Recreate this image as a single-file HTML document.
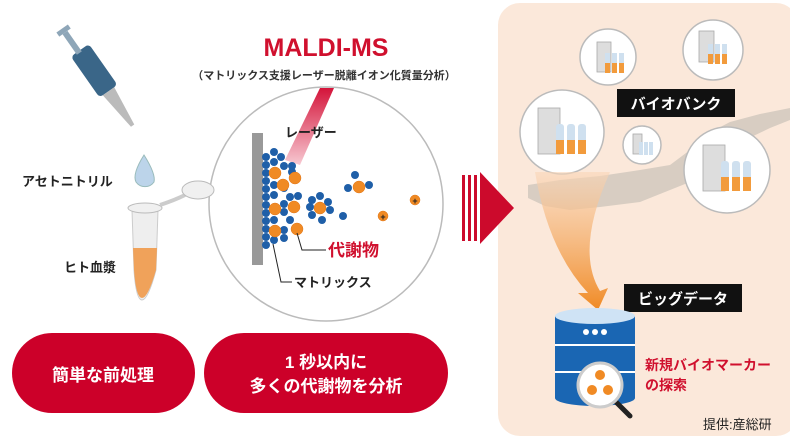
<!DOCTYPE html>
<html><head><meta charset="utf-8"><style>
body{margin:0;background:#fff}
svg{display:block}
text{font-family:"Liberation Sans","Noto Sans CJK JP",sans-serif;font-weight:bold}
</style></head><body>
<svg width="790" height="439" viewBox="0 0 790 439" xmlns="http://www.w3.org/2000/svg">
<defs>
<linearGradient id="las" x1="0" y1="0" x2="0" y2="1"><stop offset="0" stop-color="#d4143a"/><stop offset="1" stop-color="#f7c9d2"/></linearGradient>
<linearGradient id="arr" x1="0" y1="0" x2="0" y2="1"><stop offset="0" stop-color="#f9d6b8" stop-opacity="0.6"/><stop offset="1" stop-color="#f08a24"/></linearGradient>
</defs>
<rect x="498" y="3" width="300" height="433" rx="22" fill="#fbe8da"/>
<path d="M528 185 L560 180 L600 176 L640 170 L670 165 L690 150 L705 135 L730 122 L760 114 L790 108 L790 120 L770 128 L745 140 L725 160 L700 178 L670 190 L640 202 L600 207 L570 210 L545 206 L528 198 Z" fill="#d8cdc2"/>
<g stroke="#bbb" stroke-width="1.5" fill="#fff">
<circle cx="562" cy="132" r="42"/><circle cx="608" cy="57" r="28"/><circle cx="713" cy="50" r="30"/><circle cx="642" cy="145" r="19"/><circle cx="727" cy="170" r="43"/>
</g>
<g fill="#ddd" stroke="#aaa" stroke-width="0.8">
<rect x="538" y="108" width="22" height="46"/><rect x="597" y="42" width="14" height="30"/><rect x="699" y="31" width="15" height="31"/><rect x="633" y="134" width="9" height="20"/><rect x="703" y="145" width="22" height="46"/>
</g>
<g fill="#cfe0ef">
<rect x="556" y="124" width="8" height="30" rx="3"/><rect x="567" y="124" width="8" height="30" rx="3"/><rect x="578" y="124" width="8" height="30" rx="3"/>
<rect x="605" y="53" width="5" height="20"/><rect x="612" y="53" width="5" height="20"/><rect x="619" y="53" width="5" height="20"/>
<rect x="708" y="44" width="5" height="20"/><rect x="715" y="44" width="5" height="20"/><rect x="722" y="44" width="5" height="20"/>
<rect x="639" y="142" width="4" height="13"/><rect x="644" y="142" width="4" height="13"/><rect x="649" y="142" width="4" height="13"/>
<rect x="721" y="161" width="8" height="30" rx="3"/><rect x="732" y="161" width="8" height="30" rx="3"/><rect x="743" y="161" width="8" height="30" rx="3"/>
</g>
<g fill="#f29b3c">
<rect x="556" y="140" width="8" height="14"/><rect x="567" y="140" width="8" height="14"/><rect x="578" y="140" width="8" height="14"/>
<rect x="605" y="63" width="5" height="10"/><rect x="612" y="63" width="5" height="10"/><rect x="619" y="63" width="5" height="10"/>
<rect x="708" y="54" width="5" height="10"/><rect x="715" y="54" width="5" height="10"/><rect x="722" y="54" width="5" height="10"/>
<rect x="721" y="177" width="8" height="14"/><rect x="732" y="177" width="8" height="14"/><rect x="743" y="177" width="8" height="14"/>
</g>
<path d="M535 172 Q548 250 588 293 L578 293 L598 310 L608 288 L600 291 Q575 250 610 172 Z" fill="url(#arr)"/>
<rect x="617" y="89" width="118" height="28" fill="#111"/>
<text x="676" y="109" font-size="15" fill="#fff" text-anchor="middle">バイオバンク</text>
<rect x="624" y="284" width="118" height="28" fill="#111"/>
<text x="683" y="304" font-size="15" fill="#fff" text-anchor="middle">ビッグデータ</text>
<rect x="555" y="316" width="80" height="82" fill="#1a66b3"/>
<ellipse cx="595" cy="398" rx="40" ry="8" fill="#1a66b3"/>
<ellipse cx="595" cy="316" rx="40" ry="8" fill="#cfe3f5"/>
<line x1="555" y1="345" x2="635" y2="345" stroke="#fff" stroke-width="2"/>
<line x1="555" y1="372" x2="635" y2="372" stroke="#fff" stroke-width="2"/>
<circle cx="586" cy="332" r="3" fill="#fff"/><circle cx="595" cy="332" r="3" fill="#fff"/><circle cx="604" cy="332" r="3" fill="#fff"/>
<line x1="614" y1="400" x2="630" y2="416" stroke="#222" stroke-width="5" stroke-linecap="round"/>
<circle cx="600" cy="385" r="22" fill="#fff" stroke="#ccc" stroke-width="3"/>
<g fill="#f08a24"><circle cx="600" cy="375" r="5"/><circle cx="592" cy="390" r="5"/><circle cx="608" cy="390" r="5"/></g>
<text x="645" y="370" font-size="14" fill="#d0102e">新規バイオマーカー</text>
<text x="645" y="390" font-size="14" fill="#d0102e">の探索</text>
<text x="703" y="429" font-size="13" fill="#222" style="font-weight:normal">提供:産総研</text>
<g fill="#cc0a2c">
<rect x="462" y="175" width="3" height="66"/><rect x="468" y="175" width="3" height="66"/><rect x="474" y="175" width="3" height="66"/>
<polygon points="480,172 514,208 480,244"/>
</g>
<text x="326" y="56" font-size="25" fill="#d0102e" text-anchor="middle">MALDI-MS</text>
<text x="324" y="79" font-size="11" fill="#333" text-anchor="middle">（マトリックス支援レーザー脱離イオン化質量分析）</text>
<circle cx="326" cy="204" r="117" fill="#fff" stroke="#bbb" stroke-width="1.5"/>
<polygon points="320,88 334,88 300,165 285,160" fill="url(#las)"/>
<text x="285" y="137" font-size="13" fill="#222">レーザー</text>
<rect x="252" y="133" width="11" height="132" fill="#999"/>
<g fill="#1f5fa8">
<circle cx="266" cy="157" r="4"/><circle cx="274" cy="152" r="4"/><circle cx="281" cy="157" r="4"/><circle cx="266" cy="165" r="4"/><circle cx="266" cy="173" r="4"/><circle cx="266" cy="181" r="4"/><circle cx="266" cy="189" r="4"/><circle cx="266" cy="197" r="4"/><circle cx="266" cy="205" r="4"/><circle cx="266" cy="213" r="4"/><circle cx="266" cy="221" r="4"/><circle cx="266" cy="229" r="4"/><circle cx="266" cy="237" r="4"/><circle cx="266" cy="245" r="4"/>
<circle cx="274" cy="162" r="4"/><circle cx="274" cy="185" r="4"/><circle cx="274" cy="195" r="4"/><circle cx="274" cy="220" r="4"/><circle cx="274" cy="240" r="4"/>
<circle cx="284" cy="166" r="4"/><circle cx="284" cy="188" r="4"/><circle cx="290" cy="197" r="4"/><circle cx="284" cy="204" r="4"/><circle cx="284" cy="212" r="4"/><circle cx="290" cy="220" r="4"/><circle cx="284" cy="230" r="4"/><circle cx="284" cy="238" r="4"/>
<circle cx="292" cy="166" r="4"/><circle cx="298" cy="196" r="4"/><circle cx="292" cy="172" r="4"/>
<circle cx="312" cy="200" r="4"/><circle cx="320" cy="196" r="4"/><circle cx="328" cy="202" r="4"/><circle cx="330" cy="210" r="4"/><circle cx="312" cy="215" r="4"/><circle cx="322" cy="220" r="4"/><circle cx="310" cy="207" r="4"/>
<circle cx="343" cy="216" r="4"/><circle cx="355" cy="175" r="4"/><circle cx="348" cy="188" r="4"/><circle cx="369" cy="185" r="4"/>
</g>
<g fill="#f08a24" stroke="#e0761a" stroke-width="0.5">
<circle cx="275" cy="173" r="6"/><circle cx="283" cy="185" r="6"/><circle cx="295" cy="178" r="6"/><circle cx="275" cy="209" r="6"/><circle cx="294" cy="207" r="6"/><circle cx="275" cy="231" r="6"/><circle cx="297" cy="229" r="6"/><circle cx="320" cy="208" r="6"/><circle cx="359" cy="187" r="6"/>
<circle cx="383" cy="216" r="5"/><circle cx="415" cy="200" r="5"/>
</g>
<text x="383" y="220" font-size="9" text-anchor="middle" fill="#222">+</text>
<text x="415" y="204" font-size="9" text-anchor="middle" fill="#222">+</text>
<polyline points="297,233 302,250 326,250" fill="none" stroke="#222" stroke-width="1"/>
<text x="328" y="256" font-size="17" fill="#d0102e">代謝物</text>
<polyline points="273,244 281,282 292,282" fill="none" stroke="#222" stroke-width="1"/>
<text x="294" y="287" font-size="13" fill="#222">マトリックス</text>
<g transform="rotate(-35 90 70)">
<rect x="82" y="48" width="22" height="50" rx="4" fill="#3a6688"/>
<rect x="88" y="25" width="6" height="25" fill="#8ea6b8"/>
<rect x="84" y="20" width="14" height="5" fill="#8ea6b8"/>
<polygon points="86,98 100,98 95,140 91,140" fill="#bbb"/>
</g>
<path d="M144 155 Q132 174 136 182 A11 11 0 0 0 154 182 Q156 174 144 155Z" fill="#bcd4ea" stroke="#9bb" stroke-width="1"/>
<text x="22" y="186" font-size="13" fill="#222">アセトニトリル</text>
<text x="64" y="272" font-size="13" fill="#222">ヒト血漿</text>
<path d="M132 210 L158 210 L156 270 Q148 300 142 300 Q136 300 134 270 Z" fill="#eee" stroke="#ccc"/>
<path d="M133 248 L157 248 L156 270 Q148 298 142 298 Q136 298 134 270 Z" fill="#f0a25a"/>
<ellipse cx="145" cy="208" rx="17" ry="5" fill="#f0f0f0" stroke="#bbb"/>
<path d="M160 205 Q175 200 185 195" stroke="#ccc" stroke-width="4" fill="none"/>
<ellipse cx="198" cy="190" rx="16" ry="9" fill="#f0f0f0" stroke="#bbb"/>
<rect x="12" y="333" width="183" height="80" rx="40" fill="#cc0029"/>
<text x="103" y="381" font-size="17" fill="#fff" text-anchor="middle">簡単な前処理</text>
<rect x="204" y="333" width="244" height="80" rx="40" fill="#cc0029"/>
<text x="326" y="368" font-size="17" fill="#fff" text-anchor="middle">1 秒以内に</text>
<text x="326" y="392" font-size="17" fill="#fff" text-anchor="middle">多くの代謝物を分析</text>
</svg>
</body></html>
